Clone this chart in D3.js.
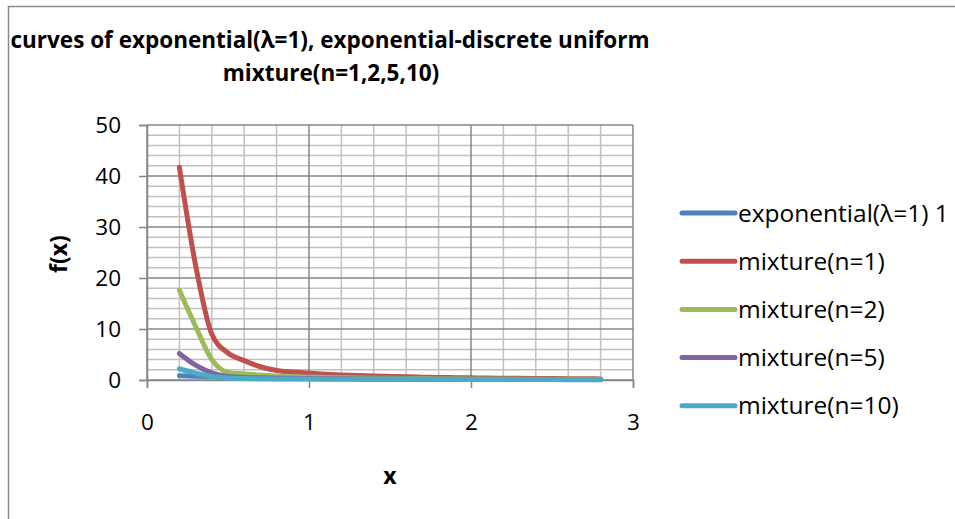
<!DOCTYPE html>
<html>
<head>
<meta charset="utf-8">
<script src="https://cdn.jsdelivr.net/npm/d3@7"></script>
<style>
  html, body { margin: 0; padding: 0; background: #fff; }
  svg { display: block; font-family: "Open Sans", "Noto Sans", sans-serif; }
</style>
</head>
<body>
<svg id="chart" width="955" height="519"></svg>
<script>
// Density curves sampled at x = 0.2 ... 2.8
const xValues = [0.2,0.3,0.4,0.5,0.6,0.7,0.8,0.9,1.0,1.1,1.2,1.3,1.4,1.5,1.6,1.7,1.8,1.9,2.0,2.1,2.2,2.3,2.4,2.5,2.6,2.7,2.8];

const exponential = [0.82,0.74,0.67,0.61,0.55,0.50,0.45,0.41,0.37,0.33,0.30,0.27,0.25,0.22,0.20,0.18,0.17,0.15,0.14,0.12,0.11,0.10,0.09,0.08,0.07,0.07,0.06];
const mixtureN1 = [41.7,22.5,9.0,5.3,3.8,2.6,1.85,1.55,1.35,1.15,1.0,0.88,0.78,0.7,0.62,0.56,0.5,0.46,0.42,0.38,0.35,0.32,0.3,0.28,0.26,0.24,0.22];
const mixtureN2 = [17.6,10.5,4.0,1.5,1.2,0.95,0.74,0.63,0.55,0.5,0.45,0.4,0.36,0.33,0.3,0.27,0.25,0.23,0.21,0.2,0.18,0.17,0.16,0.15,0.14,0.13,0.12];
const mixtureN5 = [5.2,2.9,1.4,0.7,0.5,0.42,0.36,0.32,0.28,0.26,0.24,0.22,0.2,0.19,0.18,0.17,0.16,0.15,0.14,0.13,0.13,0.12,0.12,0.11,0.11,0.1,0.1];
const mixtureN10 = [2.2,1.35,0.7,0.4,0.3,0.25,0.22,0.2,0.18,0.17,0.16,0.15,0.14,0.13,0.13,0.12,0.12,0.11,0.11,0.1,0.1,0.1,0.09,0.09,0.09,0.08,0.08];

const seriesNames = ["exponential(λ=1) 1", "mixture(n=1)", "mixture(n=2)", "mixture(n=5)", "mixture(n=10)"];
const seriesValues = [exponential, mixtureN1, mixtureN2, mixtureN5, mixtureN10];
const seriesColors = ["#4F81BD", "#C0504D", "#9BBB59", "#8064A2", "#4BACC6"];

const xTicks = [0, 1, 2, 3];
const yTicks = [0, 10, 20, 30, 40, 50];
const titleLines = ["curves of exponential(λ=1), exponential-discrete uniform", "mixture(n=1,2,5,10)"];

const FONT = "'Open Sans', 'Noto Sans', sans-serif";
const svg = d3.select("#chart");

// outer chart frame (left and top edges visible)
svg.append("path")
  .attr("d", "M8.5,519 L8.5,6.5 L955,6.5")
  .attr("fill", "none").attr("stroke", "#8a8a8a").attr("stroke-width", 1.5);

const plot = { left: 147, right: 633, top: 125, bottom: 380 };
const x = d3.scaleLinear().domain([0, 3]).range([plot.left, plot.right]);
const y = d3.scaleLinear().domain([0, 50]).range([plot.bottom, plot.top]);

// minor gridlines
const g = svg.append("g");
g.selectAll(".vminor").data(d3.range(0, 15).map(i => i * 0.2).filter(v => Math.abs(v - Math.round(v)) > 1e-6))
  .join("line")
  .attr("x1", d => x(d)).attr("x2", d => x(d))
  .attr("y1", plot.top).attr("y2", plot.bottom)
  .attr("stroke", "#c0c0c0").attr("stroke-width", 1.5);
g.selectAll(".hminor").data(d3.range(0, 26).map(i => i * 2).filter(v => v % 10 !== 0))
  .join("line")
  .attr("x1", plot.left).attr("x2", plot.right)
  .attr("y1", d => y(d)).attr("y2", d => y(d))
  .attr("stroke", "#c0c0c0").attr("stroke-width", 1.5);
// major gridlines
g.selectAll(".vmajor").data(xTicks).join("line")
  .attr("x1", d => x(d)).attr("x2", d => x(d))
  .attr("y1", plot.top).attr("y2", plot.bottom)
  .attr("stroke", "#868686").attr("stroke-width", 1.5);
g.selectAll(".hmajor").data(yTicks).join("line")
  .attr("x1", plot.left).attr("x2", plot.right)
  .attr("y1", d => y(d)).attr("y2", d => y(d))
  .attr("stroke", "#868686").attr("stroke-width", 1.5);

// axes
const xAxis = svg.append("g").attr("transform", `translate(0,${plot.bottom})`)
  .call(d3.axisBottom(x).tickValues(xTicks).tickSize(8).tickPadding(26).tickFormat(d3.format("d")));
const yAxis = svg.append("g").attr("transform", `translate(${plot.left},0)`)
  .call(d3.axisLeft(y).tickValues(yTicks).tickSize(8).tickPadding(18).tickFormat(d3.format("d")));
[xAxis, yAxis].forEach(a => {
  a.select(".domain").attr("stroke", "#868686").attr("stroke-width", 1.5);
  a.selectAll(".tick line").attr("stroke", "#868686").attr("stroke-width", 1.5);
  a.selectAll(".tick text").attr("fill", "#000").style("font-size", "22.5px")
    .style("font-family", FONT);
});

// series lines
const line = d3.line()
  .x((d, i) => x(xValues[i]))
  .y(d => y(d))
  .curve(d3.curveMonotoneX);
svg.append("g").selectAll("path").data(seriesValues).join("path")
  .attr("d", d => line(d))
  .attr("fill", "none")
  .attr("stroke", (d, i) => seriesColors[i])
  .attr("stroke-width", 5)
  .attr("stroke-linecap", "round")
  .attr("stroke-linejoin", "round");

// title
svg.append("text").attr("x", 330).attr("y", 48)
  .attr("text-anchor", "middle").attr("font-weight", "bold").style("font-size", "22.5px")
  .text(titleLines[0]);
svg.append("text").attr("x", 331).attr("y", 81)
  .attr("text-anchor", "middle").attr("font-weight", "bold").style("font-size", "22.5px")
  .text(titleLines[1]);

// axis titles
svg.append("text").attr("transform", "translate(67,254) rotate(-90)")
  .attr("text-anchor", "middle").attr("font-weight", "bold").style("font-size", "23px")
  .text("f(x)");
svg.append("text").attr("x", 390).attr("y", 484)
  .attr("text-anchor", "middle").attr("font-weight", "bold").style("font-size", "23px")
  .text("x");

// legend
const legend = svg.append("g").selectAll("g").data(seriesNames).join("g")
  .attr("transform", (d, i) => `translate(680,${213 + i * 48.2})`);
legend.append("line").attr("x1", 2).attr("x2", 55).attr("y1", 0).attr("y2", 0)
  .attr("stroke", (d, i) => seriesColors[i]).attr("stroke-width", 5).attr("stroke-linecap", "round");
legend.append("text").attr("x", 58).attr("y", 0).attr("dy", "0.35em")
  .style("font-size", "24.5px").text(d => d);
</script>
</body>
</html>
